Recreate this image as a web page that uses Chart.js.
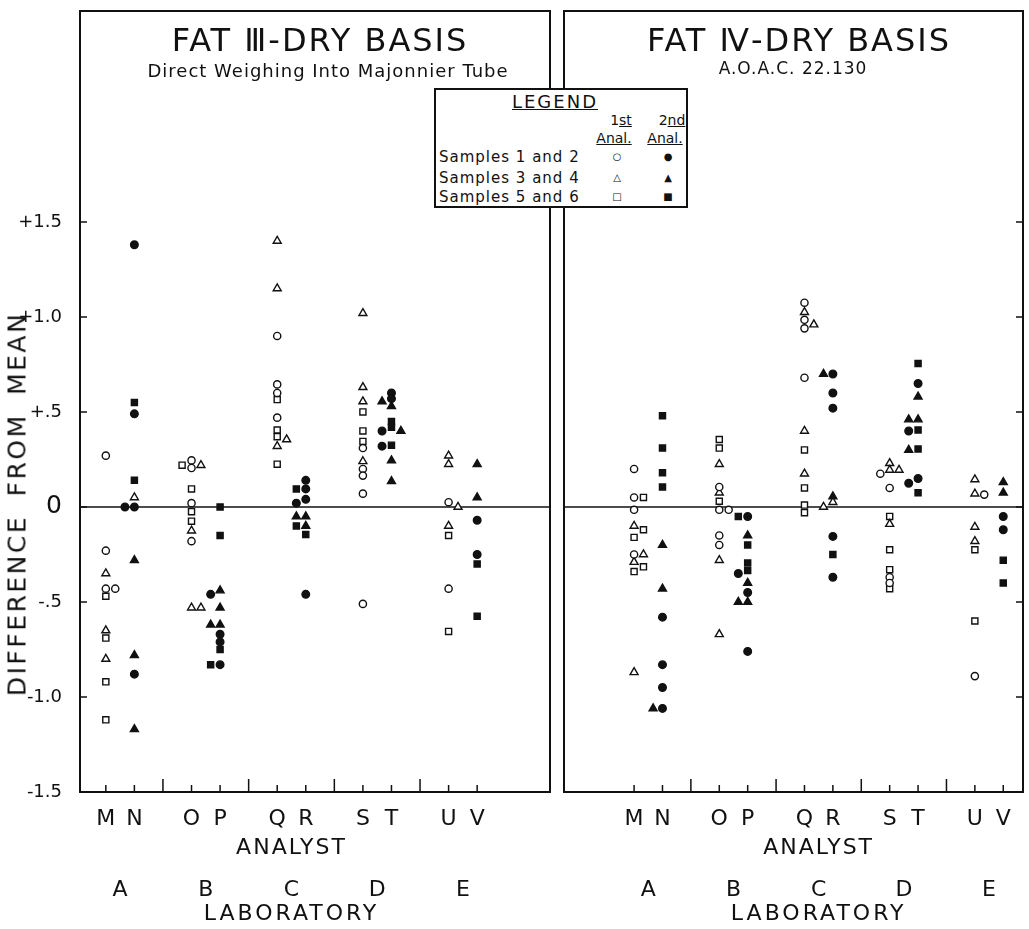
<!DOCTYPE html>
<html>
<head>
<meta charset="utf-8">
<script src="https://cdn.jsdelivr.net/npm/chart.js@4.4.1/dist/chart.umd.min.js"></script>
<style>
  body { margin: 0; background: #fff; }
  #page { position: relative; width: 1029px; height: 929px; overflow: hidden; font-family: "DejaVu Sans", sans-serif; color: #111; }
  .cv { position: absolute; top: 0; height: 929px; }
  .t { position: absolute; white-space: nowrap; transform: translate(-50%, -50%); line-height: 1; }
  .l { position: absolute; white-space: nowrap; transform: translate(0, -50%); line-height: 1; }
  #legend { position: absolute; left: 434px; top: 88px; width: 254px; height: 120px; box-sizing: border-box; border: 2px solid #111; background: #fff; }
  .sym { font-size: 10px; }
</style>
</head>
<body>
<div id="page">
  <div class="cv" style="left:0;width:556px"><canvas id="fat3"></canvas></div>
  <div class="cv" style="left:556px;width:473px"><canvas id="fat4"></canvas></div>

  <div class="t" style="left:320px;top:40px;font-size:32px;letter-spacing:2px">FAT Ⅲ-DRY BASIS</div>
  <div class="t" style="left:328px;top:71px;font-size:18px;letter-spacing:1px">Direct Weighing Into Majonnier Tube</div>
  <div class="t" style="left:799px;top:40px;font-size:32px;letter-spacing:2px">FAT Ⅳ-DRY BASIS</div>
  <div class="t" style="left:793px;top:68px;font-size:17px;letter-spacing:1px">A.O.A.C. 22.130</div>

  <div class="t" style="left:17px;top:504px;font-size:25px;letter-spacing:2.5px;word-spacing:8px;transform:translate(-50%,-50%) rotate(-90deg)">DIFFERENCE FROM MEAN</div>

  <div id="legend"></div>
  <div class="t" style="left:555px;top:102px;font-size:18px;letter-spacing:2px;text-decoration:underline">LEGEND</div>
  <div class="t" style="left:621px;top:120px;font-size:14px">1<u>st</u></div>
  <div class="t" style="left:672px;top:120px;font-size:14px">2<u>nd</u></div>
  <div class="t" style="left:614px;top:138px;font-size:14px;text-decoration:underline">Anal.</div>
  <div class="t" style="left:665px;top:138px;font-size:14px;text-decoration:underline">Anal.</div>
  <div class="l" style="left:439px;top:157px;font-size:15px;letter-spacing:1px">Samples 1 and 2</div>
  <div class="l" style="left:439px;top:178px;font-size:15px;letter-spacing:1px">Samples 3 and 4</div>
  <div class="l" style="left:439px;top:197px;font-size:15px;letter-spacing:1px">Samples 5 and 6</div>
  <div class="t sym" style="left:617px;top:157px">○</div>
  <div class="t sym" style="left:668px;top:157px">●</div>
  <div class="t sym" style="left:617px;top:178px">△</div>
  <div class="t sym" style="left:668px;top:178px">▲</div>
  <div class="t sym" style="left:617px;top:197px">□</div>
  <div class="t sym" style="left:668px;top:197px">■</div>
</div>

<script>
// analysts, grouped two per laboratory
const analysts = ['M', 'N', 'O', 'P', 'Q', 'R', 'S', 'T', 'U', 'V'];
const labs = ['A', 'B', 'C', 'D', 'E'];
const yTicks = [-1.5, -1.0, -0.5, 0, 0.5, 1.0, 1.5];
const yTickLabels = ['-1.5', '-1.0', '-.5', '0', '+.5', '+1.0', '+1.5'];

// FAT III - dry basis  [analyst, difference from mean]
const fat3Circle1 = [['M',0.27],['M',-0.23],['M',-0.43],['M',-0.43],['O',0.245],['O',0.205],['O',0.02],['O',-0.18],
  ['Q',0.90],['Q',0.645],['Q',0.60],['Q',0.47],['S',0.31],['S',0.20],['S',0.165],['S',0.07],['S',-0.51],['U',0.025],['U',-0.43]];
const fat3Circle2 = [['N',1.38],['N',0.49],['N',0],['N',0],['N',-0.88],['P',-0.46],['P',-0.67],['P',-0.71],['P',-0.83],
  ['R',0.14],['R',0.095],['R',0.04],['R',0.02],['R',-0.46],['T',0.60],['T',0.57],['T',0.40],['T',0.32],['V',-0.07],['V',-0.25]];
const fat3Tri1 = [['M',-0.35],['M',-0.65],['M',-0.80],['N',0.05],['O',0.22],['O',-0.125],['O',-0.53],['O',-0.53],
  ['Q',1.40],['Q',1.15],['Q',0.355],['Q',0.32],['S',1.02],['S',0.63],['S',0.555],['S',0.24],['U',0.27],['U',0.225],['U',0.0],['U',-0.10]];
const fat3Tri2 = [['N',-0.28],['N',-0.78],['N',-1.17],['P',-0.44],['P',-0.53],['P',-0.62],['P',-0.62],['R',-0.05],['R',-0.05],['R',-0.10],
  ['T',0.555],['T',0.53],['T',0.40],['T',0.245],['T',0.135],['V',0.225],['V',0.05]];
const fat3Sq1 = [['M',-0.47],['M',-0.69],['M',-0.92],['M',-1.12],['O',0.22],['O',0.095],['O',-0.025],['O',-0.075],
  ['Q',0.565],['Q',0.405],['Q',0.37],['Q',0.225],['S',0.50],['S',0.40],['S',0.345],['U',-0.15],['U',-0.655]];
const fat3Sq2 = [['N',0.55],['N',0.14],['P',0.0],['P',-0.15],['P',-0.75],['P',-0.83],['R',0.095],['R',-0.10],['R',-0.145],
  ['T',0.45],['T',0.42],['T',0.325],['V',-0.30],['V',-0.575]];

// FAT IV - dry basis, A.O.A.C. 22.130
const fat4Circle1 = [['M',0.20],['M',0.05],['M',-0.015],['M',-0.25],['O',0.105],['O',-0.015],['O',-0.015],['O',-0.15],['O',-0.20],
  ['Q',1.075],['Q',0.985],['Q',0.94],['Q',0.68],['S',0.175],['S',0.10],['S',-0.37],['S',-0.40],['U',0.065],['U',-0.89]];
const fat4Circle2 = [['N',-0.58],['N',-0.83],['N',-0.95],['N',-1.06],['P',-0.05],['P',-0.35],['P',-0.45],['P',-0.76],
  ['R',0.70],['R',0.60],['R',0.52],['R',-0.155],['R',-0.37],['T',0.65],['T',0.40],['T',0.15],['T',0.125],['V',-0.05],['V',-0.12]];
const fat4Tri1 = [['M',-0.10],['M',-0.25],['M',-0.29],['M',-0.87],['O',0.225],['O',0.075],['O',-0.28],['O',-0.67],
  ['Q',1.025],['Q',0.96],['Q',0.40],['Q',0.175],['R',0.025],['R',0.0],['S',0.23],['S',0.195],['S',0.195],['S',-0.09],
  ['U',0.145],['U',0.07],['U',-0.105],['U',-0.18]];
const fat4Tri2 = [['N',-0.20],['N',-0.43],['N',-1.06],['P',-0.15],['P',-0.40],['P',-0.50],['P',-0.50],['R',0.70],['R',0.055],
  ['T',0.58],['T',0.46],['T',0.46],['T',0.30],['V',0.13],['V',0.075]];
const fat4Sq1 = [['M',0.05],['M',-0.12],['M',-0.16],['M',-0.315],['M',-0.34],['O',0.355],['O',0.31],['O',0.03],
  ['Q',0.30],['Q',0.10],['Q',0.01],['Q',-0.03],['S',-0.05],['S',-0.225],['S',-0.33],['S',-0.43],['U',-0.225],['U',-0.60]];
const fat4Sq2 = [['N',0.48],['N',0.31],['N',0.18],['N',0.105],['P',-0.05],['P',-0.20],['P',-0.295],['P',-0.335],['R',-0.25],
  ['T',0.755],['T',0.405],['T',0.305],['T',0.075],['V',-0.28],['V',-0.40]];

const INK = '#111';

// slot on the x axis: two analysts per lab, a gap (lab separator) between labs
function pos(a) {
  const i = analysts.indexOf(a);
  return Math.floor(i / 2) * 3 + (i % 2) + 1;
}

// side-step markers that would overlap inside one analyst column
function dodge(seriesList) {
  const all = [];
  seriesList.forEach((s, si) => s.forEach(([a, v]) => all.push({ a, v, si, x: pos(a) })));
  const placed = [];
  all.slice().sort((p, q) => q.v - p.v).forEach(p => {
    const side = analysts.indexOf(p.a) % 2 === 0 ? 1 : -1;
    for (const slot of [0, side, -side, 2 * side]) {
      const clash = placed.some(o => o.a === p.a && o.slot === slot && Math.abs(o.v - p.v) < 0.026);
      if (!clash) { p.slot = slot; break; }
    }
    placed.push(p);
  });
  return seriesList.map((s, si) => all.filter(p => p.si === si).map(p => ({ x: p.x + p.slot * 0.33, y: p.v })));
}

function datasets(seriesList) {
  const pts = dodge(seriesList);
  const look = [
    ['circle', 3.6, '#fff'], ['circle', 3.8, INK],
    ['triangle', 4.6, '#fff'], ['triangle', 4.6, INK],
    ['rect', 4.3, '#fff'], ['rect', 4.3, INK]
  ];
  return pts.map((data, i) => ({
    data,
    showLine: false,
    pointStyle: look[i][0],
    pointRadius: look[i][1],
    pointBackgroundColor: look[i][2],
    pointBorderColor: INK,
    pointBorderWidth: 1.4
  }));
}

function noPad(s) { s.paddingTop = 0; s.paddingBottom = 0; s.paddingLeft = 0; s.paddingRight = 0; }

const panelFrame = {
  id: 'panelFrame',
  beforeDatasetsDraw(chart, args, opts) {
    const { ctx, chartArea: a, scales: { x, y } } = chart;
    ctx.save();
    ctx.strokeStyle = INK;
    ctx.lineCap = 'butt';
    const y0 = y.getPixelForValue(0);
    ctx.lineWidth = 1.6;
    ctx.beginPath(); ctx.moveTo(a.left, y0); ctx.lineTo(a.right, y0); ctx.stroke();
    ctx.lineWidth = 2;
    ctx.strokeRect(a.left, a.top, a.right - a.left, a.bottom - a.top);
    ctx.lineWidth = 1.5;
    ctx.beginPath();
    analysts.forEach(an => {
      const px = x.getPixelForValue(pos(an));
      ctx.moveTo(px, a.bottom); ctx.lineTo(px, a.bottom - 7);
    });
    for (let k = 1; k < labs.length; k++) {
      const px = x.getPixelForValue(k * 3);
      ctx.moveTo(px, a.bottom); ctx.lineTo(px, a.bottom - 13);
    }
    yTicks.forEach(v => {
      const py = y.getPixelForValue(v);
      if (opts.side === 'left') { ctx.moveTo(a.left, py); ctx.lineTo(a.left + 7, py); }
      else { ctx.moveTo(a.right, py); ctx.lineTo(a.right - 7, py); }
    });
    ctx.stroke();
    ctx.restore();
  },
  afterDraw(chart) {
    const { ctx, scales: { x } } = chart;
    ctx.save();
    ctx.fillStyle = INK;
    ctx.textAlign = 'center';
    ctx.textBaseline = 'middle';
    ctx.font = '22px "DejaVu Sans"';
    const first = x.getPixelForValue(pos(analysts[0]));
    const last = x.getPixelForValue(pos(analysts[analysts.length - 1]));
    const mid = (first + last) / 2;
    ctx.letterSpacing = '2px';
    ctx.fillText('ANALYST', mid, 848);
    ctx.letterSpacing = '0px';
    labs.forEach((lab, i) => {
      const px = (x.getPixelForValue(pos(analysts[2 * i])) + x.getPixelForValue(pos(analysts[2 * i + 1]))) / 2;
      ctx.fillText(lab, px, 890);
    });
    ctx.letterSpacing = '3px';
    ctx.fillText('LABORATORY', mid, 914);
    ctx.restore();
  }
};

function makePanel(id, seriesList, xMin, xMax, side) {
  const left = side === 'left';
  return new Chart(document.getElementById(id), {
    type: 'scatter',
    data: { datasets: datasets(seriesList) },
    plugins: [panelFrame],
    options: {
      responsive: true,
      maintainAspectRatio: false,
      animation: false,
      events: [],
      layout: { padding: { top: 11, bottom: 0, left: left ? 0 : 8, right: left ? 3 : 0 } },
      plugins: { legend: { display: false }, tooltip: { enabled: false }, panelFrame: { side } },
      scales: {
        x: {
          type: 'linear', min: xMin, max: xMax,
          grid: { display: false, drawTicks: false },
          border: { display: false },
          afterBuildTicks: s => { s.ticks = analysts.map(a => ({ value: pos(a) })); },
          afterFit: s => { s.height = 137; noPad(s); },
          ticks: {
            autoSkip: false, maxRotation: 0, padding: 14, color: INK,
            font: { family: 'DejaVu Sans', size: 22 },
            callback: v => analysts.find(a => pos(a) === v) || ''
          }
        },
        y: {
          type: 'linear', min: -1.5, max: 2.61,
          display: left,
          grid: { display: false, drawTicks: false },
          border: { display: false },
          afterBuildTicks: s => { s.ticks = yTicks.map(v => ({ value: v })); },
          afterFit: s => { s.width = left ? 80 : 0; noPad(s); },
          ticks: {
            padding: 18, color: INK,
            font: c => ({ family: 'DejaVu Sans', size: c.tick && c.tick.value === 0 ? 25 : 18 }),
            callback: v => yTickLabels[yTicks.indexOf(v)]
          }
        }
      }
    }
  });
}

makePanel('fat3', [fat3Circle1, fat3Circle2, fat3Tri1, fat3Tri2, fat3Sq1, fat3Sq2], 0.096, 16.55, 'left');
makePanel('fat4', [fat4Circle1, fat4Circle2, fat4Tri1, fat4Tri2, fat4Sq1, fat4Sq2], -1.468, 14.695, 'right');
</script>
</body>
</html>
